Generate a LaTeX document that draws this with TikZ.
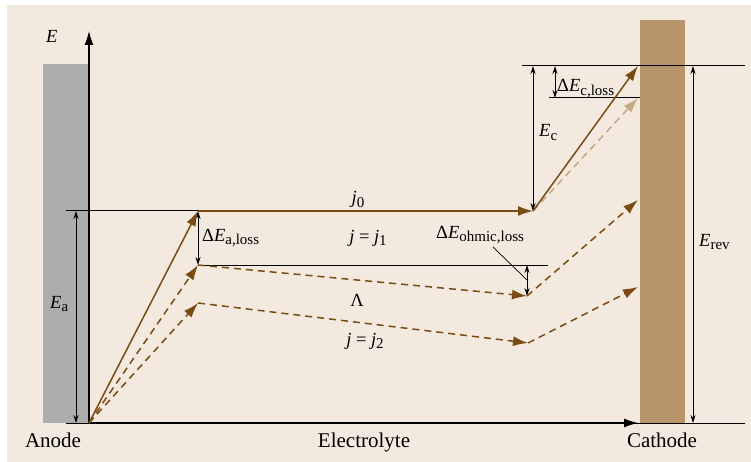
\documentclass[tikz,border=0pt]{standalone}
\usepackage{fontspec}
\setmainfont{Liberation Serif}
\usetikzlibrary{arrows.meta}
\definecolor{bgc}{HTML}{F3E9DF}
\definecolor{anodec}{HTML}{ADADAD}
\definecolor{cathc}{HTML}{B8956A}
\definecolor{brn}{HTML}{7B4B14}
\definecolor{lbrn}{HTML}{C6A882}
\newcommand\Sb[1]{\raisebox{-3.5pt}{\fontsize{15}{16}\selectfont #1}}
\newcommand\Ei{\textit{E}}
\newcommand\Mf{\fontsize{18.5}{21}\selectfont}
\begin{document}
\begin{tikzpicture}[x=1pt,y=-1pt,
  brw/.style={draw=brn, line width=1.5pt, -{Latex[length=15pt,width=10pt]}},
  dsh/.style={brw, dash pattern=on 7pt off 5pt},
  ldsh/.style={draw=lbrn, line width=1.5pt, dash pattern=on 7pt off 5pt, -{Latex[length=15pt,width=10pt]}},
  dimar/.style={draw=black, line width=0.8pt, {Stealth[length=8pt,width=5pt]}-{Stealth[length=8pt,width=5pt]}},
  thinl/.style={draw=black, line width=1pt},
  axis/.style={draw=black, line width=1.2pt, -{Latex[length=14pt,width=9pt]}},
  mlbl/.style={inner sep=0pt, font=\Mf},
  tlbl/.style={inner sep=0pt, font=\fontsize{21}{25}\selectfont}]
\useasboundingbox (0,0) rectangle (751,462);
\fill[white] (0,0) rectangle (751,462);
\fill[bgc] (7,5) rectangle (751,462);
% coordinates
\coordinate (O) at (89,423);
\coordinate (Ytop) at (89,31);
\coordinate (Xend) at (638,423);
\coordinate (A1) at (198,211);
\coordinate (A2) at (198,265);
\coordinate (A3) at (198,303);
\coordinate (B0) at (533,211);
\coordinate (B1) at (527,296);
\coordinate (B2) at (528,343);
\coordinate (C0) at (638,66);
\coordinate (C0b) at (638,98);
\coordinate (C1) at (638,200);
\coordinate (C2) at (638,287);
% anode
\fill[anodec] (43,64) rectangle (89,423);
% horizontal reference lines
\draw[thinl] (66,423) -- (745,423);
\draw[thinl] (66,211) -- (A1);
\draw[thinl] (A2) -- (548,265);
\draw[thinl] (522,66) -- (745,66);
% axes
\draw[axis] (O) -- (Ytop);
\draw[axis] (O) -- (Xend);
% cathode
\fill[cathc] (640,20) rectangle (685,423);
\draw[thinl] (640,66) -- (745,66);
\draw[thinl] (549,98) -- (640,98);
% dimension arrows
\coordinate (Ea1) at (76,211);
\coordinate (Ea2) at (76,423);
\draw[dimar] (Ea1) -- (Ea2);
\draw[dimar] (A1) -- (A2);
\coordinate (Ec1) at (533,66);
\draw[dimar] (Ec1) -- (B0);
\coordinate (Ecl1) at (555,66);
\coordinate (Ecl2) at (555,98);
\draw[dimar] (Ecl1) -- (Ecl2);
\coordinate (Er1) at (693,66);
\coordinate (Er2) at (693,423);
\draw[dimar] (Er1) -- (Er2);
\coordinate (Eo1) at (527,265);
\draw[dimar] (Eo1) -- (B1);
% brown paths
\draw[ldsh] (B0) -- (C0b);
\draw[brw] (O) -- (A1);
\draw[brw] (A1) -- (B0);
\draw[brw] (B0) -- (C0);
\draw[dsh] (O) -- (A2);
\draw[dsh] (A2) -- (B1);
\draw[dsh] (B1) -- (C1);
\draw[dsh] (O) -- (A3);
\draw[dsh] (A3) -- (B2);
\draw[dsh] (B2) -- (C2);
% labels
\node[mlbl, anchor=base west] (lE) at (46,43) {\Ei};
\node[mlbl, anchor=base west] (lEa) at (50,308) {\Ei\Sb{a}};
\node[mlbl, anchor=base west] (lDa) at (202,241) {Δ\Ei\Sb{a,loss}};
\node[mlbl, anchor=base] (lj0) at (358,204) {\textit{j}\Sb{0}};
\node[mlbl, anchor=base] (lj1) at (368,242) {\textit{j} = \textit{j}\Sb{1}};
\node[mlbl, anchor=base] (lL) at (357,306) {Λ};
\node[mlbl, anchor=base] (lj2) at (365,345) {\textit{j} = \textit{j}\Sb{2}};
\node[mlbl, anchor=base west] (lDo) at (436,238) {Δ\Ei\Sb{ohmic,loss}};
\coordinate (Lo1) at (493,247);
\coordinate (Lo2) at (527,280);
\draw[draw=black, line width=0.7pt] (Lo1) -- (Lo2);
\node[mlbl, anchor=base west] (lEc) at (539,137) {\Ei\Sb{c}};
\node[mlbl, anchor=base west] (lDc) at (557,92) {Δ\Ei\Sb{c,loss}};
\node[mlbl, anchor=base west] (lEr) at (699,246) {\Ei\Sb{rev}};
\node[tlbl, anchor=base] (tA) at (53,447) {Anode};
\node[tlbl, anchor=base] (tE) at (364,447) {Electrolyte};
\node[tlbl, anchor=base] (tC) at (662,447) {Cathode};
\end{tikzpicture}
\end{document}
